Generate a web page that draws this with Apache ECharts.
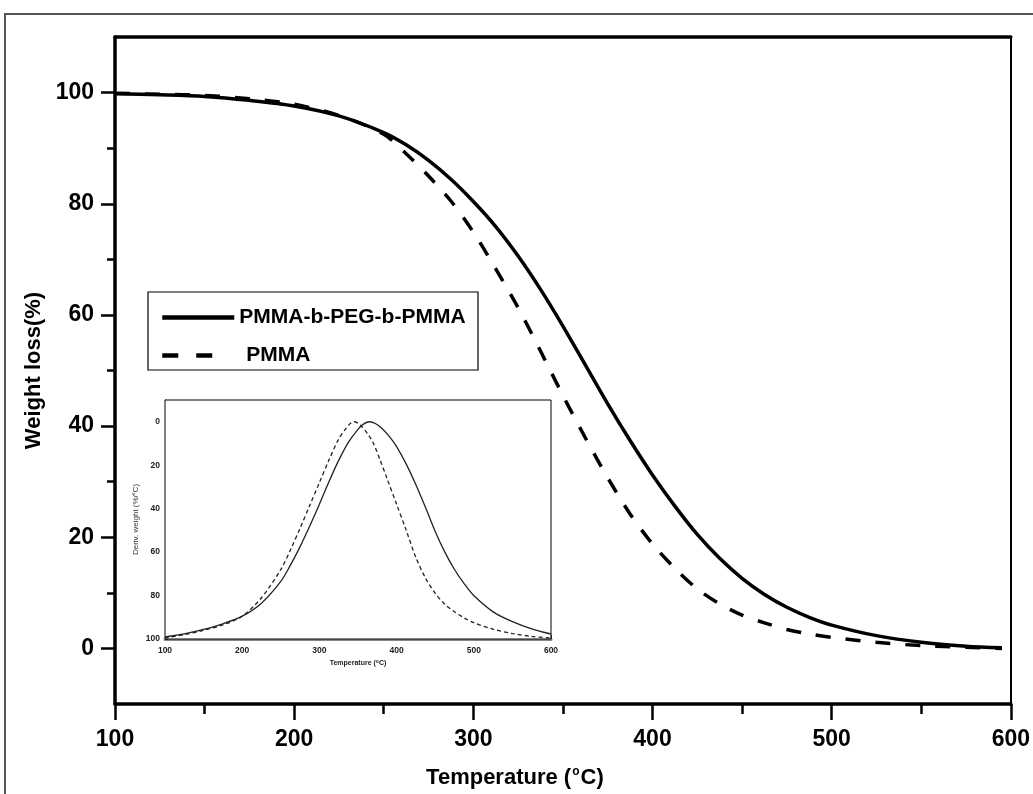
<!DOCTYPE html>
<html>
<head>
<meta charset="utf-8">
<script src="https://cdn.jsdelivr.net/npm/echarts@6/dist/echarts.min.js"></script>
<style>
html,body{margin:0;padding:0;background:#fff;}
#chart{width:1033px;height:794px;}
</style>
</head>
<body>
<div id="chart"></div>
<script>
// ---- data ----
const copolymerTemps = [100,125,150,175,200,225,250,262.5,275,287.5,300,312.5,325,337.5,350,362.5,375,387.5,400,412.5,425,437.5,450,462.5,475,487.5,500,525,550,575,595];
const copolymerTG    = [99.8,99.6,99.3,98.6,97.6,95.8,92.8,90.6,87.8,84.4,80.4,75.9,70.6,64.6,58.0,51.0,44.0,37.4,31.2,25.6,20.5,16.2,12.6,9.7,7.4,5.6,4.2,2.3,1.1,0.4,0.1];

const pmmaTemps = [100,125,150,175,200,225,250,262.5,275,287.5,300,312.5,325,337.5,350,362.5,375,387.5,400,412.5,425,437.5,450,462.5,475,487.5,500,525,550,575,595];
const pmmaTG    = [99.9,99.7,99.5,98.9,97.9,95.9,92.5,89.0,85.0,80.5,74.9,68.3,61.3,53.5,45.5,37.9,30.7,24.2,18.8,14.4,10.7,8.0,6.0,4.6,3.4,2.6,2.0,1.1,0.5,0.2,0.0];

const copolymerDTGTemps = [100,125,150,175,200,225,250,262.5,275,287.5,300,312.5,325,337.5,350,357.5,365,372.5,380,390,400,412.5,425,437.5,450,462.5,475,487.5,500,525,550,575,600];
const copolymerDTG      = [99,97.6,95.6,93,89.5,83.5,73.5,66,57.5,48,38,27.5,17.8,9.5,3.5,1.0,0,0.8,2.8,6.5,11.5,19.5,29,39.5,50.5,60,68,74.5,80,87.5,92,95.3,97.7];

const pmmaDTGTemps = [100,125,150,175,200,225,250,262.5,275,287.5,300,312.5,325,335,340,345,350,355,362.5,370,378.5,387.5,400,412.5,425,437.5,450,462.5,475,487.5,500,525,550,575,600];
const pmmaDTG      = [99.5,98,96,93.5,89.5,81,68,59,49,38.5,28,17.5,8,2.8,0.8,0,0.7,2.3,5.5,10,17.5,26,38,50,62.5,72,79,84,87.5,90.3,92.5,95.5,97.5,98.8,99.6];

const yMajorTicks = [0,20,40,60,80,100];
const yMinorTicks = [10,30,50,70,90];
const insetYTicks = [0,20,40,60,80,100];

const seriesNames = ['PMMA-b-PEG-b-PMMA','PMMA'];

const FF = "'Liberation Sans', Arial, sans-serif";
const pair = (xs, ys) => xs.map((x, i) => [x, ys[i]]);

const chart = echarts.init(document.getElementById('chart'), null, {renderer:'canvas'});

const option = {
  backgroundColor: '#fff',
  animation: false,
  graphic: [
    {type:'rect', silent:true, z:0, shape:{x:5, y:14, width:1100, height:900}, style:{fill:'none', stroke:'#555', lineWidth:2}},
    {type:'rect', silent:true, z:1, shape:{x:148, y:292, width:330, height:78}, style:{fill:'#fff', stroke:'#000', lineWidth:1.2}}
  ],
  legend: [
    {data:[seriesNames[0]], left:155, top:302, itemWidth:72, itemHeight:16, z:5, selectedMode:false,
     itemStyle:{opacity:0}, lineStyle:{width:4.5},
     textStyle:{fontFamily:FF, fontSize:21, fontWeight:'bold', color:'#000'}},
    {data:[seriesNames[1]], left:155, top:340, itemWidth:50, itemHeight:16, z:5, selectedMode:false,
     itemStyle:{opacity:0}, lineStyle:{width:4.5, type:[16,18]},
     textStyle:{fontFamily:FF, fontSize:21, fontWeight:'bold', color:'#000', padding:[0,0,0,29]}}
  ],
  grid: [
    {left:115, top:37, right:21, bottom:88, show:false},
    {left:165, top:400, right:482, bottom:155, show:true, backgroundColor:'#fff', borderColor:'#000', borderWidth:1, z:3}
  ],
  xAxis: [
    {type:'value', gridIndex:0, min:100, max:600, interval:100, position:'bottom',
     axisLine:{show:true, onZero:false, lineStyle:{color:'#000', width:3.5}},
     axisTick:{show:true, length:16, lineStyle:{color:'#000', width:2.5}},
     minorTick:{show:true, splitNumber:2, length:10, lineStyle:{color:'#000', width:2.5}},
     splitLine:{show:false},
     axisLabel:{margin:24, fontFamily:FF, fontSize:23, fontWeight:'bold', color:'#000'},
     name:'{a|Temperature (}{s|o}{a|C)}', nameLocation:'middle', nameGap:62,
     nameTextStyle:{padding:[0,96,0,0], rich:{
       a:{fontFamily:FF, fontSize:22, fontWeight:'bold', color:'#000', lineHeight:24},
       s:{fontFamily:FF, fontSize:12, fontWeight:'bold', color:'#000', verticalAlign:'top', lineHeight:24, padding:[0,1,0,1]}}}},
    {type:'value', gridIndex:0, min:100, max:600, position:'top',
     axisLine:{show:true, onZero:false, lineStyle:{color:'#000', width:3.5}},
     axisTick:{show:false}, axisLabel:{show:false}, splitLine:{show:false}},
    {type:'value', gridIndex:1, min:100, max:600, interval:100, position:'bottom',
     axisLine:{show:true, onZero:false, lineStyle:{color:'#888', width:3}},
     axisTick:{show:true, inside:true, length:4, lineStyle:{color:'#333', width:1}},
     minorTick:{show:true, splitNumber:2, length:3, lineStyle:{color:'#333', width:1}},
     splitLine:{show:false},
     axisLabel:{margin:7, fontFamily:FF, fontSize:8.5, fontWeight:'bold', color:'#222'},
     name:'{a|Temperature (}{s|o}{a|C)}', nameLocation:'middle', nameGap:20,
     nameTextStyle:{rich:{
       a:{fontFamily:FF, fontSize:7, fontWeight:'bold', color:'#222', lineHeight:9},
       s:{fontFamily:FF, fontSize:5, fontWeight:'bold', color:'#222', verticalAlign:'top', lineHeight:9}}}}
  ],
  yAxis: [
    {type:'value', gridIndex:0, min:-10, max:110, interval:10, position:'left',
     axisLine:{show:true, onZero:false, lineStyle:{color:'#000', width:3.5}},
     axisTick:{show:true, length:14, customValues:yMajorTicks, lineStyle:{color:'#000', width:2.5}},
     splitLine:{show:false},
     axisLabel:{margin:21, customValues:yMajorTicks, fontFamily:FF, fontSize:23, fontWeight:'bold', color:'#000'},
     name:'Weight loss(%)', nameLocation:'middle', nameGap:61,
     nameTextStyle:{fontFamily:FF, fontSize:22, fontWeight:'bold', color:'#000'}},
    {type:'value', gridIndex:0, min:-10, max:110, interval:10, position:'left',
     axisLine:{show:false}, axisLabel:{show:false}, splitLine:{show:false},
     axisTick:{show:true, length:8, customValues:yMinorTicks, lineStyle:{color:'#000', width:2.5}}},
    {type:'value', gridIndex:0, min:-10, max:110, position:'right',
     axisLine:{show:true, onZero:false, lineStyle:{color:'#000', width:2}},
     axisTick:{show:false}, axisLabel:{show:false}, splitLine:{show:false}},
    {type:'value', gridIndex:1, min:-10, max:100, interval:10, inverse:true, position:'left',
     axisLine:{show:true, onZero:false, lineStyle:{color:'#000', width:1}},
     axisTick:{show:true, inside:true, length:3, lineStyle:{color:'#333', width:1}},
     splitLine:{show:false},
     axisLabel:{margin:5, customValues:insetYTicks, fontFamily:FF, fontSize:8.5, fontWeight:'bold', color:'#222'},
     name:'{a|Deriv. weight (%/}{s|o}{a|C)}', nameLocation:'middle', nameGap:24,
     nameTextStyle:{rich:{
       a:{fontFamily:FF, fontSize:8, color:'#334', lineHeight:10},
       s:{fontFamily:FF, fontSize:5, color:'#334', verticalAlign:'top', lineHeight:10}}}}
  ],
  series: [
    {name:seriesNames[0], type:'line', xAxisIndex:0, yAxisIndex:0, data:pair(copolymerTemps, copolymerTG),
     symbol:'none', smooth:0.3, lineStyle:{color:'#000', width:3.5}, itemStyle:{color:'#000'}, z:4},
    {name:seriesNames[1], type:'line', xAxisIndex:0, yAxisIndex:0, data:pair(pmmaTemps, pmmaTG),
     symbol:'none', smooth:0.3, lineStyle:{color:'#000', width:3.5, type:[15,15]}, itemStyle:{color:'#000'}, z:4},
    {name:'DTG copolymer', type:'line', xAxisIndex:2, yAxisIndex:3, data:pair(copolymerDTGTemps, copolymerDTG),
     symbol:'none', smooth:0.3, lineStyle:{color:'#222', width:1.3}, z:5},
    {name:'DTG PMMA', type:'line', xAxisIndex:2, yAxisIndex:3, data:pair(pmmaDTGTemps, pmmaDTG),
     symbol:'none', smooth:0.3, lineStyle:{color:'#222', width:1.3, type:[4,3]}, z:5}
  ]
};
chart.setOption(option);
</script>
</body>
</html>
